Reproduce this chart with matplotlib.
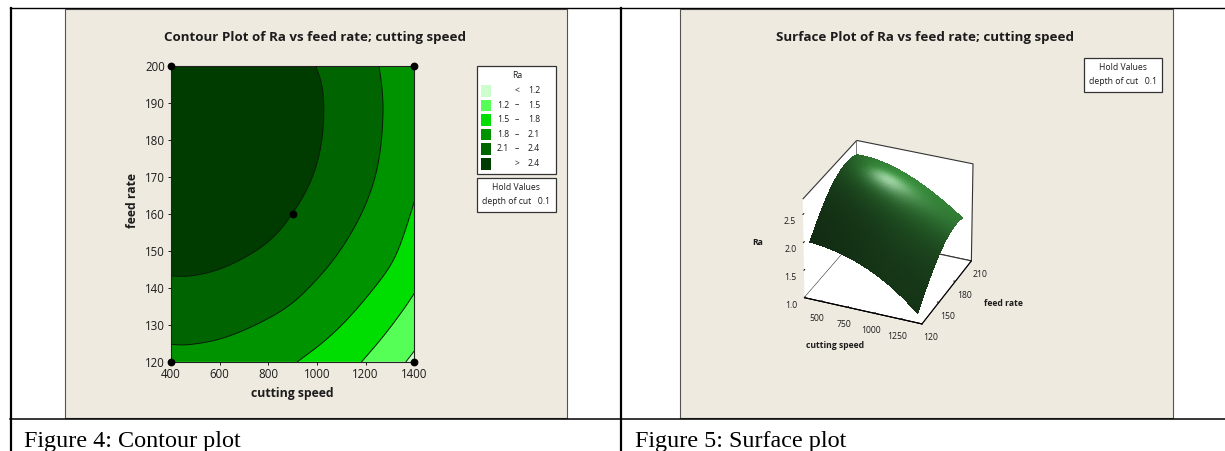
import numpy as np
import matplotlib
matplotlib.use("Agg")
import matplotlib.pyplot as plt
from matplotlib.patches import Rectangle

W, H = 1225, 451

# ---- data ----
contour_title = "Contour Plot of Ra vs feed rate; cutting speed"
surface_title = "Surface Plot of Ra vs feed rate; cutting speed"
speed_ticks = [400, 600, 800, 1000, 1200, 1400]
feed_ticks = [120, 130, 140, 150, 160, 170, 180, 190, 200]
design_speed = [400, 400, 1400, 1400, 900]
design_feed = [120, 200, 120, 200, 160]

b24_speed = [400, 478, 601, 738, 830, 900, 960, 998, 1022, 1030, 1022, 995]
b24_feed = [143.2, 143.0, 144.8, 149.3, 154.0, 160.0, 166.5, 172.8, 180.0, 188.0, 195.0, 200.0]
b21_speed = [400, 464, 601, 738, 889, 1012, 1085, 1149, 1205, 1245, 1265, 1273, 1268, 1255]
b21_feed = [124.7, 124.4, 125.9, 129.5, 134.9, 143.0, 149.0, 155.6, 163.0, 171.0, 179.0, 188.0, 194.0, 200.0]
b18_speed = [920, 1040, 1149, 1273, 1320, 1355, 1400]
b18_feed = [120.0, 125.9, 133.0, 143.0, 148.0, 153.8, 163.3]
b15_speed = [1184, 1273, 1355, 1400]
b15_feed = [120.0, 126.8, 134.0, 138.5]
b12_speed = [1366, 1400]
b12_feed = [120.0, 122.9]

legend_rows = [("", "<", "1.2"), ("1.2", "–", "1.5"), ("1.5", "–", "1.8"),
               ("1.8", "–", "2.1"), ("2.1", "–", "2.4"), ("", ">", "2.4")]
legend_colors = ["#ccffcc", "#55ff55", "#00dd00", "#009300", "#006400", "#003c00"]

surf_speed = [400, 600, 800, 1000, 1200, 1400]
surf_feed = [120, 136, 152, 168, 184, 200]
surf_ra = [
    [2.03, 1.98, 1.88, 1.72, 1.49, 1.17],
    [2.32, 2.28, 2.17, 1.97, 1.74, 1.44],
    [2.53, 2.49, 2.37, 2.22, 2.00, 1.70],
    [2.68, 2.65, 2.55, 2.37, 2.13, 1.85],
    [2.72, 2.70, 2.60, 2.43, 2.18, 1.93],
    [2.65, 2.62, 2.52, 2.39, 2.14, 1.90],
]
surf_speed_ticks = [500, 750, 1000, 1250]
surf_feed_ticks = [120, 150, 180, 210]
surf_ra_ticks = [1.0, 1.5, 2.0, 2.5]

TXT = "#1c1c1c"
BEIGE = "#efeae0"
SANS = "Open Sans"

fig = plt.figure(figsize=(W / 100, H / 100), dpi=100, facecolor="white")
bg = fig.add_axes([0, 0, 1, 1])
bg.set_xlim(0, W); bg.set_ylim(H, 0); bg.axis("off")

def px_axes(x0, y0, x1, y1, **kw):
    return fig.add_axes([x0 / W, 1 - y1 / H, (x1 - x0) / W, (y1 - y0) / H], **kw)

# panels and table rules
for x0, x1 in [(65, 567), (680, 1173)]:
    bg.add_patch(Rectangle((x0, 9), x1 - x0, 409, fc=BEIGE, ec="#55534f", lw=0.8))
bg.plot([11, 11], [8, H], color="black", lw=1.6)
bg.plot([621, 621], [8, H], color="black", lw=1.6)
bg.plot([10, 1225], [8.3, 8.3], color="black", lw=1.0)
bg.plot([10, 1225], [419, 419], color="black", lw=1.1)

bg.text(24, 447, "Figure 4: Contour plot", family="Liberation Serif", fontsize=17.4, color="black", va="baseline")
bg.text(635, 447, "Figure 5: Surface plot", family="Liberation Serif", fontsize=17.4, color="black", va="baseline")
bg.text(315, 38, contour_title, family=SANS, fontsize=9.6, fontweight="bold", color=TXT, ha="center", va="center")
bg.text(925, 38, surface_title, family=SANS, fontsize=9.6, fontweight="bold", color=TXT, ha="center", va="center")

# ---- contour ----
ax = px_axes(171, 66, 414.3, 361.7)
ax.set_xlim(400, 1400); ax.set_ylim(120, 200)
ax.set_facecolor(legend_colors[0])

def rounded(xs, ys, rounds=3):
    """Corner-cut a boundary for drawing, keeping its two end points."""
    P = np.column_stack([xs, ys]).astype(float)
    for _ in range(rounds):
        Q = np.empty((2 * len(P), 2))
        Q[0::2] = 0.75 * P + 0.25 * np.roll(P, -1, axis=0)
        Q[1::2] = 0.25 * P + 0.75 * np.roll(P, -1, axis=0)
        P = np.vstack([P[:1], Q[:-2], P[-1:]])
    return P[:, 0], P[:, 1]

layers = [(b12_speed, b12_feed, "edge", legend_colors[1]),
          (b15_speed, b15_feed, "edge", legend_colors[2]),
          (b18_speed, b18_feed, "edge", legend_colors[3]),
          (b21_speed, b21_feed, "corner", legend_colors[4]),
          (b24_speed, b24_feed, "corner", legend_colors[5])]
for bs, bf, kind, col in layers:
    rs, rf = rounded(bs, bf)
    if kind == "corner":
        xs, ys = list(rs) + [400], list(rf) + [200]
    else:
        xs, ys = list(rs) + [1400, 400, 400], list(rf) + [200, 200, 120]
    ax.fill(xs, ys, fc=col, lw=0, zorder=2)
    ax.plot(rs, rf, color="#0a1a0a", lw=0.7, zorder=3)
ax.plot(design_speed, design_feed, ls="none", marker="o", ms=4.6, color="black", clip_on=False, zorder=5)
ax.set_xticks(speed_ticks); ax.set_yticks(feed_ticks)
ax.tick_params(length=2.5, width=0.7, labelsize=8.3, pad=2, colors=TXT)
for lab in ax.get_xticklabels() + ax.get_yticklabels():
    lab.set_family(SANS)
for s in ax.spines.values():
    s.set_linewidth(0.8); s.set_color("#222222")
bg.text(292, 394, "cutting speed", family=SANS, fontsize=8.8, fontweight="bold", color=TXT, ha="center", va="center")
bg.text(132, 201, "feed rate", family=SANS, fontsize=8.8, fontweight="bold", color=TXT, ha="center", va="center", rotation=90)

# ---- legends ----
def box(x0, y0, x1, y1):
    bg.add_patch(Rectangle((x0, y0), x1 - x0, y1 - y0, fc="white", ec="#333333", lw=0.9, zorder=4))

LEG = dict(family=SANS, fontsize=6.2, color=TXT, zorder=6, va="center")
box(477, 66, 556, 174)
bg.text(517, 75, "Ra", ha="center", **LEG)
for i, ((lo, dash, hi), c) in enumerate(zip(legend_rows, legend_colors)):
    y = 90.5 + i * 14.6
    bg.add_patch(Rectangle((480.5, y - 5.5), 10.5, 11.5, fc=c, ec="none", zorder=5))
    bg.text(503, y, lo, ha="center", **LEG)
    bg.text(517, y, dash, ha="center", **LEG)
    bg.text(534, y, hi, ha="center", **LEG)

def hold(x0, y0, x1, y1):
    box(x0, y0, x1, y1)
    bg.text((x0 + x1) / 2, y0 + 10, "Hold Values", ha="center", **LEG)
    bg.text((x0 + x1) / 2, y0 + 24, "depth of cut   0.1", ha="center", **LEG)

hold(477, 178, 556, 212)
hold(1084, 58, 1162, 92)

# ---- surface ----
a3 = px_axes(764, 129, 1008, 338, projection="3d", facecolor="none")
a3.patch.set_alpha(0)
a3.set_proj_type("persp", focal_length=2.5)
a3.view_init(elev=30, azim=-67)
a3.set_box_aspect((131.6, 137, 117), zoom=1.0)
S0, F0 = np.array(surf_speed, float), np.array(surf_feed, float)
Z0 = np.array(surf_ra, float)

# fine mesh between the read values, for rendering only
def resample(Z, x, y, n=80):
    xf = np.linspace(x[0], x[-1], n); yf = np.linspace(y[0], y[-1], n)
    cols = np.array([np.polyval(np.polyfit(x, Z[i], 3), xf) for i in range(len(y))])
    out = np.array([np.polyval(np.polyfit(y, cols[:, j], 3), yf) for j in range(n)]).T
    return xf, yf, out

xf, yf, Zf = resample(Z0, S0, F0)
XX, YY = np.meshgrid(xf, yf)
xl, yl, zl = (340, 1440), (120, 210), (1.0, 2.77)
dx = (xf[1] - xf[0]) / (xl[1] - xl[0]) * 131.6
dy = (yf[1] - yf[0]) / (yl[1] - yl[0]) * 137
dzz = 117 / (zl[1] - zl[0])
gy, gx = np.gradient(Zf * dzz, dy, dx)
N = np.dstack([-gx, -gy, np.ones_like(gx)])
N /= np.linalg.norm(N, axis=2, keepdims=True)
L = np.array([0.45, 0.35, 1.0]); L /= np.linalg.norm(L)
Hv = np.array([0.40, -0.10, 1.0]); Hv /= np.linalg.norm(Hv)
diff = np.clip(N @ L, 0, 1)
cosh = np.clip(N @ Hv, 0, 1)
base = np.array([0.17, 0.42, 0.18])
rgb = base[None, None, :] * (0.35 + 0.9 * diff[..., None] ** 4)
rgb = rgb + (cosh[..., None] ** 90) * np.array([0.42, 0.28, 0.42])
rgb = rgb + (cosh[..., None] ** 30) * np.array([0.02, 0.12, 0.03])
rgb = np.clip(rgb, 0, 1)
fc = (rgb[:-1, :-1] + rgb[1:, 1:]) / 2
a3.plot_surface(XX, YY, Zf, facecolors=fc, shade=False, rstride=1, cstride=1, linewidth=0, antialiased=False)
a3.set_xlim(*xl); a3.set_ylim(*yl); a3.set_zlim(*zl)
a3.set_xticks(surf_speed_ticks); a3.set_yticks(surf_feed_ticks); a3.set_zticks(surf_ra_ticks)
a3.set_zticklabels([f"{v:.1f}" for v in surf_ra_ticks])
a3.tick_params(labelsize=6.2, colors=TXT, pad=-2, length=2)
a3.zaxis._axinfo["juggled"] = (1, 0, 2)
a3.zaxis.set_ticks_position("lower")
for axis in (a3.xaxis, a3.yaxis, a3.zaxis):
    axis.set_pane_color((1, 1, 1, 1))
    axis.pane.set_edgecolor("#333333")
    axis.pane.set_linewidth(0.8)
    axis.line.set_linewidth(0.7)
    axis._axinfo["grid"]["linewidth"] = 0
    axis._axinfo["tick"]["inward_factor"] = 0
    axis._axinfo["tick"]["outward_factor"] = 0.15
    for lab in axis.get_ticklabels():
        lab.set_family(SANS)
a3.grid(False)
LB = dict(family=SANS, fontsize=6.2, fontweight="bold", color=TXT, ha="center", va="center", zorder=8)
bg.set_zorder(0); a3.set_zorder(1)
fig.text(835 / W, 1 - 346 / H, "cutting speed", **LB)
fig.text(1003 / W, 1 - 303 / H, "feed rate", **LB)
fig.text(758 / W, 1 - 242 / H, "Ra", **LB)

fig.savefig("out.png", dpi=100, facecolor="white")
